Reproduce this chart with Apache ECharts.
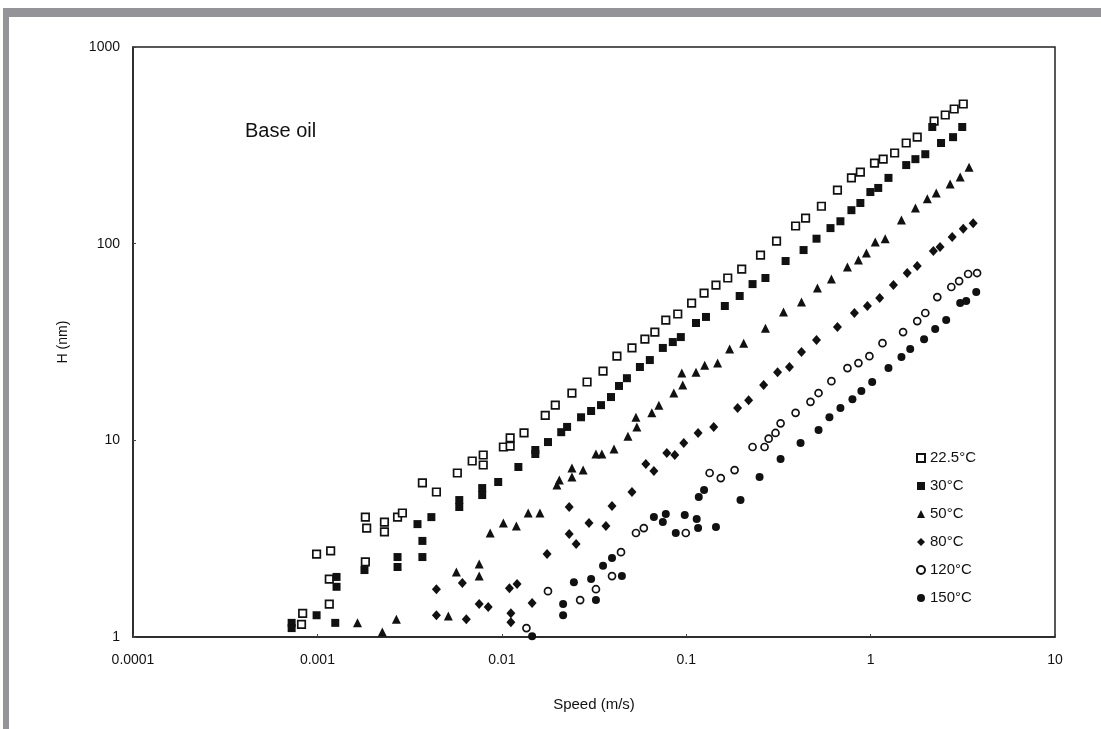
<!DOCTYPE html>
<html>
<head>
<meta charset="utf-8">
<title>Base oil film thickness</title>
<script src="https://cdn.jsdelivr.net/npm/echarts@6/dist/echarts.min.js"></script>
<style>
html, body { margin: 0; padding: 0; background: #fff; }
#wrap { position: relative; width: 1101px; height: 729px; overflow: hidden; }
.bar-top { position: absolute; left: 3px; top: 8px; width: 1098px; height: 9px; background: #939398; }
.bar-left { position: absolute; left: 3px; top: 8px; width: 6px; height: 721px; background: #939398; }
#chart { position: absolute; left: 0; top: 0; width: 1101px; height: 729px; }
</style>
</head>
<body>
<div id="wrap">
  <div class="bar-top"></div>
  <div class="bar-left"></div>
  <div id="chart"></div>
</div>
<script>
// tick labels
const xTickLabels = ['0.0001', '0.001', '0.01', '0.1', '1', '10'];
const yTickLabels = ['1', '10', '100', '1000'];
const seriesNames = ['22.5°C', '30°C', '50°C', '80°C', '120°C', '150°C'];

// [speed m/s, H nm]
const t225 = [
  [0.00082, 1.16], [0.000832, 1.32], [0.00099, 2.64], [0.00116, 1.47], [0.00116, 1.97], [0.00118, 2.74],
  [0.00182, 2.41], [0.00182, 4.07], [0.00185, 3.58], [0.00231, 3.84], [0.00231, 3.42], [0.00272, 4.07],
  [0.00289, 4.27], [0.00371, 6.07], [0.00442, 5.46], [0.00574, 6.82], [0.00691, 7.85], [0.00793, 8.42],
  [0.00793, 7.49], [0.0102, 9.25], [0.0111, 10.3], [0.0111, 9.35], [0.0132, 10.9], [0.0172, 13.4],
  [0.0195, 15.1], [0.024, 17.4], [0.029, 19.8], [0.0354, 22.5], [0.0421, 26.8], [0.0508, 29.5],
  [0.0597, 32.7], [0.0676, 35.5], [0.0775, 40.9], [0.09, 43.9], [0.107, 49.9], [0.125, 56.1],
  [0.145, 61.6], [0.168, 66.9], [0.2, 74.3], [0.253, 87.5], [0.309, 103], [0.392, 123],
  [0.444, 135], [0.541, 155], [0.661, 187], [0.787, 216], [0.88, 231], [1.05, 257],
  [1.17, 269], [1.35, 289], [1.56, 325], [1.79, 348], [2.21, 420], [2.54, 451],
  [2.84, 484], [3.18, 513]
];
const t30 = [
  [0.000725, 1.18], [0.000725, 1.11], [0.00099, 1.29], [0.00125, 1.18], [0.00127, 2.02], [0.00127, 1.8],
  [0.0018, 2.19], [0.00272, 2.55], [0.00272, 2.27], [0.00349, 3.75], [0.00371, 3.08], [0.00371, 2.55],
  [0.00415, 4.07], [0.00588, 4.97], [0.00588, 4.58], [0.00783, 5.72], [0.00783, 5.27], [0.00956, 6.14],
  [0.0123, 7.32], [0.0152, 8.93], [0.0152, 8.52], [0.0178, 9.8], [0.021, 11.0], [0.0226, 11.7],
  [0.0269, 13.1], [0.0305, 14.1], [0.0345, 15.1], [0.0391, 16.6], [0.0432, 18.9], [0.0477, 20.7],
  [0.0561, 23.6], [0.0635, 25.6], [0.0747, 29.5], [0.0846, 31.6], [0.0935, 33.5], [0.113, 39.5],
  [0.128, 42.4], [0.162, 48.2], [0.195, 54.2], [0.229, 62.3], [0.269, 66.9], [0.346, 81.6],
  [0.433, 92.8], [0.509, 106], [0.606, 120], [0.686, 130], [0.787, 148], [0.88, 161],
  [0.997, 183], [1.1, 192], [1.25, 216], [1.56, 251], [1.75, 269], [1.98, 285],
  [2.16, 392], [2.41, 325], [2.8, 348], [3.14, 392]
];
const t50 = [
  [0.00165, 1.18], [0.00225, 1.06], [0.00268, 1.23], [0.00513, 1.28], [0.00567, 2.14], [0.00754, 2.35],
  [0.00754, 2.04], [0.00865, 3.38], [0.0102, 3.8], [0.012, 3.67], [0.0139, 4.27], [0.0161, 4.27],
  [0.0199, 5.93], [0.0205, 6.28], [0.024, 7.23], [0.024, 6.51], [0.0276, 7.06], [0.0324, 8.52],
  [0.0349, 8.52], [0.0406, 9.03], [0.0483, 10.5], [0.0534, 13.1], [0.054, 11.7], [0.0651, 13.8],
  [0.0711, 15.1], [0.0857, 17.4], [0.0947, 22.0], [0.0958, 19.1], [0.113, 22.2], [0.126, 24.1],
  [0.148, 24.7], [0.172, 29.1], [0.205, 31.2], [0.269, 37.2], [0.337, 44.9], [0.422, 50.5],
  [0.515, 59.5], [0.613, 66.1], [0.749, 76.0], [0.859, 82.5], [0.949, 89.6], [1.06, 102],
  [1.2, 106], [1.47, 132], [1.75, 152], [2.03, 169], [2.27, 181], [2.7, 201],
  [3.06, 218], [3.42, 245]
];
const t80 = [
  [0.00442, 1.29], [0.00442, 1.75], [0.00611, 1.88], [0.00642, 1.23], [0.00754, 1.47], [0.00844, 1.42],
  [0.011, 1.77], [0.0121, 1.86], [0.0112, 1.32], [0.0112, 1.19], [0.0146, 1.49], [0.0176, 2.64],
  [0.0232, 4.58], [0.0232, 3.34], [0.0253, 2.97], [0.0297, 3.8], [0.0367, 3.67], [0.0396, 4.63],
  [0.0508, 5.46], [0.0604, 7.58], [0.0668, 6.98], [0.0785, 8.62], [0.0867, 8.42], [0.097, 9.69],
  [0.116, 10.9], [0.141, 11.7], [0.19, 14.6], [0.218, 16.0], [0.263, 19.1], [0.313, 22.2],
  [0.363, 23.6], [0.422, 28.1], [0.509, 32.4], [0.661, 37.7], [0.817, 44.4], [0.961, 48.2],
  [1.12, 52.9], [1.33, 61.6], [1.58, 70.9], [1.79, 76.9], [2.19, 91.7], [2.38, 96.1],
  [2.77, 108], [3.18, 119], [3.6, 127]
];
const t120 = [
  [0.0136, 1.11], [0.0178, 1.71], [0.0266, 1.54], [0.0324, 1.75], [0.0396, 2.04], [0.0443, 2.7],
  [0.0534, 3.38], [0.0589, 3.58], [0.0995, 3.38], [0.134, 6.82], [0.154, 6.43], [0.183, 7.06],
  [0.229, 9.25], [0.266, 9.25], [0.28, 10.2], [0.305, 10.9], [0.325, 12.2], [0.392, 13.8],
  [0.472, 15.7], [0.522, 17.4], [0.613, 20.0], [0.749, 23.3], [0.859, 24.7], [0.985, 26.8],
  [1.16, 31.2], [1.5, 35.5], [1.79, 40.4], [1.98, 44.4], [2.3, 53.5], [2.74, 60.2],
  [3.02, 64.5], [3.38, 70.1], [3.78, 70.9]
];
const t150 = [
  [0.0146, 1.01], [0.0215, 1.47], [0.0215, 1.29], [0.0246, 1.9], [0.0305, 1.97], [0.0324, 1.54],
  [0.0354, 2.3], [0.0396, 2.52], [0.0448, 2.04], [0.0668, 4.07], [0.0747, 3.84], [0.0775, 4.22],
  [0.0878, 3.38], [0.0982, 4.17], [0.114, 3.98], [0.116, 3.58], [0.117, 5.15], [0.125, 5.59],
  [0.145, 3.62], [0.197, 4.97], [0.25, 6.51], [0.325, 8.04], [0.417, 9.69], [0.522, 11.3],
  [0.598, 13.1], [0.686, 14.6], [0.797, 16.2], [0.891, 17.8], [1.02, 19.8], [1.25, 23.3],
  [1.47, 26.5], [1.64, 29.1], [1.95, 32.7], [2.24, 36.8], [2.57, 40.9], [3.06, 49.9],
  [3.3, 51.1], [3.74, 56.8]
];

const chart = echarts.init(document.getElementById('chart'));
const ink = '#111';
const font = 'Liberation Sans, Arial, sans-serif';

function decade(v) { return Math.round(Math.log10(v)); }

// scatter defaults to 0.8 opacity, the scan is solid black
const solid = { color: ink, opacity: 1 };
const hollow = { color: '#fff', borderColor: ink, borderWidth: 1.7, opacity: 1 };

const option = {
  animation: false,
  textStyle: { fontFamily: font },
  grid: {
    left: 133, right: 46, top: 47, bottom: 92,
    show: true, borderColor: '#222', borderWidth: 1.5, backgroundColor: 'transparent'
  },
  xAxis: {
    type: 'log', logBase: 10, min: 0.0001, max: 10,
    name: 'Speed (m/s)', nameLocation: 'middle', nameGap: 60,
    nameTextStyle: { color: ink, fontSize: 15, fontFamily: font },
    axisLine: { lineStyle: { color: '#222', width: 1.5 } },
    axisTick: { inside: true, length: 3, lineStyle: { color: '#444' } },
    splitLine: { show: false },
    axisLabel: {
      color: ink, fontSize: 14, margin: 16,
      formatter: v => xTickLabels[decade(v) + 4]
    }
  },
  yAxis: {
    type: 'log', logBase: 10, min: 1, max: 1000,
    name: 'H (nm)', nameLocation: 'middle', nameGap: 63,
    nameTextStyle: { color: ink, fontSize: 14, fontFamily: font },
    axisLine: { lineStyle: { color: '#222', width: 1.5 } },
    axisTick: { inside: true, length: 3, lineStyle: { color: '#444' } },
    splitLine: { show: false },
    axisLabel: {
      color: ink, fontSize: 14, margin: 13,
      formatter: v => yTickLabels[decade(v)]
    }
  },
  legend: {
    orient: 'vertical', left: 911, top: 445,
    itemWidth: 8, itemHeight: 8, itemGap: 12,
    textStyle: { color: ink, fontSize: 15, lineHeight: 16, fontFamily: font },
    data: seriesNames
  },
  graphic: [{
    type: 'text', left: 245, top: 121,
    style: { text: 'Base oil', fill: ink, font: '20px ' + font }
  }],
  series: [
    { name: seriesNames[0], type: 'scatter', data: t225, symbol: 'rect', symbolSize: 7.5, itemStyle: hollow },
    { name: seriesNames[1], type: 'scatter', data: t30, symbol: 'rect', symbolSize: 8, itemStyle: solid },
    { name: seriesNames[2], type: 'scatter', data: t50, symbol: 'triangle', symbolSize: 9, itemStyle: solid },
    { name: seriesNames[3], type: 'scatter', data: t80, symbol: 'diamond', symbolSize: [9, 10], itemStyle: solid },
    { name: seriesNames[4], type: 'scatter', data: t120, symbol: 'circle', symbolSize: 7, itemStyle: hollow },
    { name: seriesNames[5], type: 'scatter', data: t150, symbol: 'circle', symbolSize: 8, itemStyle: solid }
  ]
};

chart.setOption(option);
window.addEventListener('resize', () => chart.resize());
</script>
</body>
</html>
